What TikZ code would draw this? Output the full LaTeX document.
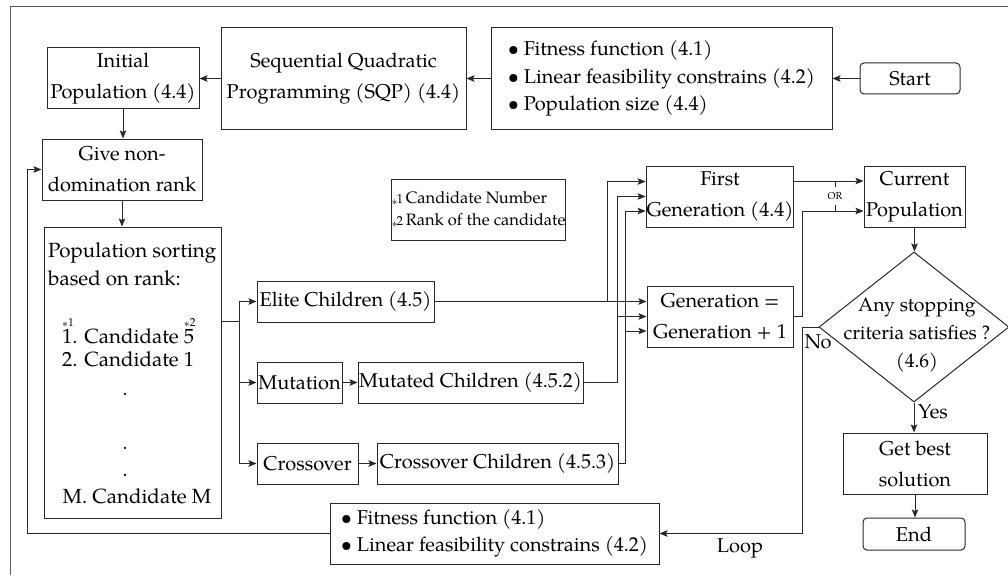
\documentclass[tikz,border=0pt]{standalone}
\usepackage{fontspec}
\setmainfont{texgyrepagella}[Extension=.otf,UprightFont=*-regular,BoldFont=*-bold,ItalicFont=*-italic,BoldItalicFont=*-bolditalic]
\usetikzlibrary{arrows.meta,shapes.geometric}
\definecolor{lc}{RGB}{40,40,40}
\definecolor{fc}{RGB}{90,90,90}
\newcommand\mf{\fontsize{20}{31}\selectfont}
\newcommand\cf{\fontsize{20.5}{28}\selectfont}
\newcommand\df{\fontsize{19.5}{28}\selectfont}
\newcommand\bfnt{\fontsize{20}{27.5}\selectfont}
\newcommand\lfnt{\fontsize{16.5}{22}\selectfont}
\newcommand\sfnt{\fontsize{11.5}{11.5}\selectfont}
\newcommand\gfnt{\fontsize{13}{13}\selectfont}
\newcommand\tfnt{\fontsize{10}{10}\selectfont}
\newcommand\stx[1]{{\gfnt\raisebox{-2pt}{$\ast$}\kern-1pt#1}\,}
\newcommand\ovs[2]{\makebox[0pt][l]{\raisebox{17pt}{\sfnt\raisebox{-1.5pt}{$\ast$}#1}}#2}
\newcommand\bul{\makebox[16pt][l]{\textbullet}}
\begin{document}
\begin{tikzpicture}[x=1pt,y=-1pt,
  box/.style={draw=lc,line width=1pt,inner sep=0.5pt,align=center,font=\mf,text=black},
  rbox/.style={box,rounded corners=4pt},
  arr/.style={draw=lc,line width=1pt,-{Stealth[length=8pt,width=6.5pt,inset=1.5pt]}},
  ln/.style={draw=lc,line width=1pt},
  lbl/.style={font=\mf,inner sep=0pt,text=black}]
\useasboundingbox (0,0) rectangle (1008,575);
\fill[white] (0,0) rectangle (1008,575);
\draw[fc,line width=1pt] (10,575) -- (10,7) -- (1008,7);

% top row
\node[box,minimum width=152pt,minimum height=61pt] (init) at (123,78.5) {Initial\\Population (4.4)};
\node[box,minimum width=245pt,minimum height=101pt] (sqp) at (343.5,78.5) {Sequential Quadratic\\Programming (SQP) (4.4)};
\node[box,minimum width=341pt,minimum height=101pt,font=\bfnt,align=left] (inp) at (661.5,78.5) {\bul Fitness function (4.1)\\\bul Linear feasibility constrains (4.2)\\\bul Population size (4.4)};
\node[rbox,minimum width=100pt,minimum height=31pt] (start) at (910,78.5) {Start};

% left column
\node[box,minimum width=160pt,minimum height=61pt] (give) at (122,169.5) {Give non-\\domination rank};
\node[box,minimum width=177pt,minimum height=291pt] (sort) at (132.5,372.5) {};
\node[lbl,font=\cf,anchor=west,align=left] (sortA) at (48,264) {Population sorting\\based on rank:};
\node[lbl,font=\cf,anchor=west] (cand1) at (62,331) {\ovs{1}{1.} Candidate \ovs{2}{5}};
\node[lbl,font=\cf,anchor=west] (cand2) at (62,359) {2. Candidate 1};
\node[lbl,anchor=base] (d1) at (125,395) {.};
\node[lbl,anchor=base] (d2) at (125,449) {.};
\node[lbl,anchor=base] (d3) at (125,476) {.};
\node[lbl,font=\cf] (candM) at (137,496) {M. Candidate M};

% legend
\node[box,minimum width=173pt,minimum height=61pt,font=\lfnt,align=left] (leg) at (478.5,210) {\stx{1}Candidate Number\\\stx{2}Rank of the candidate};

% operators
\node[box,minimum width=177pt,minimum height=41pt] (elite) at (345.5,301.5) {Elite Children (4.5)};
\node[box,minimum width=85pt,minimum height=41pt] (mut) at (299.5,382.5) {Mutation};
\node[box,minimum width=225pt,minimum height=41pt] (mutc) at (470.5,382.5) {Mutated Children (4.5.2)};
\node[box,minimum width=101pt,minimum height=41pt] (cross) at (307.5,463.5) {Crossover};
\node[box,minimum width=241pt,minimum height=41pt] (crossc) at (497.5,463.5) {Crossover Children (4.5.3)};
\node[box,minimum width=329pt,minimum height=61pt,font=\bfnt,align=left] (fit) at (494.5,533.5) {\bul Fitness function (4.1)\\\bul Linear feasibility constrains (4.2)};

% generations
\node[box,minimum width=146pt,minimum height=61pt] (first) at (720,196.5) {First\\Generation (4.4)};
\node[box,minimum width=146pt,minimum height=61pt] (gen) at (720,316.5) {Generation =\\Generation + 1};
\node[box,minimum width=101pt,minimum height=61pt] (cur) at (914.5,196.5) {Current\\Population};
\node[diamond,draw=lc,line width=1pt,minimum width=190pt,minimum height=150pt,inner sep=0pt] (dia) at (914,327) {};
\node[lbl,font=\df,align=center] (diat) at (917,335) {Any stopping\\criteria satisfies ?\\(4.6)};
\node[box,minimum width=144pt,minimum height=61pt] (best) at (915,463.5) {Get best\\solution};
\node[rbox,minimum width=102pt,minimum height=32pt] (end) at (914,534) {End};

% labels
\node[lbl] (yes) at (933,412) {Yes};
\node[lbl] (no) at (818,342) {No};
\node[lbl] (loop) at (740,548) {Loop};
\node[lbl,font=\tfnt] (or) at (835,196) {OR};

% helper coordinates
\coordinate (ve) at (607,0);
\coordinate (vm) at (617,0);
\coordinate (vc) at (625,0);
\coordinate (vn) at (802,0);
\coordinate (vl) at (27,0);
\coordinate (vb) at (239,0);
\coordinate (vo) at (835,0);
\coordinate (brk) at (0,321);
\coordinate (f1) at ([yshift=15pt]first.west);
\coordinate (f3) at ([yshift=-14.5pt]first.west);
\coordinate (g3) at ([yshift=-14.5pt]gen.west);
\coordinate (c1) at ([yshift=15.5pt]cur.west);
\coordinate (c2) at ([yshift=-14.5pt]cur.west);

% connectors
\draw[arr] (start) -- (inp);
\draw[arr] (inp) -- (sqp);
\draw[arr] (sqp) -- (init);
\draw[arr] (init.south) -- (init.south |- give.north);
\draw[arr] (give.south) -- (give.south |- sort.north);
\draw[ln] (sort.east |- brk) -- (vb |- brk);
\draw[arr] (vb |- brk) |- (elite.west);
\draw[arr] (vb |- brk) |- (mut.west);
\draw[arr] (vb |- brk) |- (cross.west);
\draw[arr] (mut) -- (mutc);
\draw[arr] (cross) -- (crossc);
\draw[arr] (elite.east) -- (elite.east -| gen.west);
\draw[arr] (elite.east -| ve) |- (f1);
\draw[arr] (mutc.east) -| (vm |- first.west) -- (first.west);
\draw[arr] (vm |- gen.west) -- (gen.west);
\draw[arr] (crossc.east) -| (vc |- f3) -- (f3);
\draw[arr] (vc |- g3) -- (g3);
\draw[arr] (first.east |- c1) -- (c1);
\draw[arr] (gen.east) -| (vn |- c2) -- (c2);
\draw[ln] (vo |- c1) -- ++(0,6);
\draw[ln] (vo |- c2) -- ++(0,-6);
\draw[arr] (cur.south) -- (cur.south |- dia.north);
\draw[arr] (dia.south) -- (dia.south |- best.north);
\draw[arr] (best.south) -- (best.south |- end.north);
\draw[arr] (dia.west) -- (dia.west -| vn) |- (fit.east);
\draw[arr] (fit.west) -| (vl |- give.west) -- (give.west);
\end{tikzpicture}
\end{document}
